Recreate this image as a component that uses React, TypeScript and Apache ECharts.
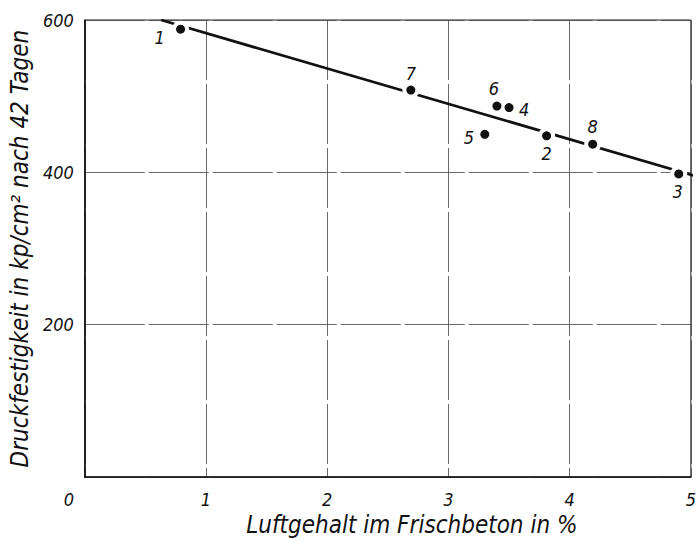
import React, { useEffect, useRef } from "react";
import * as echarts from "echarts";

const pointNames = ["1", "2", "3", "4", "5", "6", "7", "8"];
const airContent = [0.79, 3.81, 4.9, 3.5, 3.3, 3.4, 2.69, 4.19];
const strength = [588, 448, 398, 485, 450, 487, 508, 437];
const trendX = [0.63, 5.02];
const trendY = [600, 396];
const xTicks = [0, 1, 2, 3, 4, 5];
const yTicks = [0, 200, 400, 600];

// label placement (pixel offsets of each number relative to its dot)
const labelOffsets: Record<string, [number, number]> = {
  "1": [-21, 8],
  "2": [0, 18],
  "3": [-1, 18],
  "4": [15, 2],
  "5": [-16, 3],
  "6": [-3, -18],
  "7": [0, -17],
  "8": [0, -18],
};

const FONT = "'DejaVu Sans Condensed', 'DejaVu Sans', sans-serif";
const INK = "#111111";

export default function App() {
  const ref = useRef<HTMLDivElement>(null);
  useEffect(() => {
    document.body.style.margin = "0";
    if (!ref.current) return;
    const chart = echarts.init(ref.current, undefined, { renderer: "svg" });
    const pts = pointNames.map((n, i) => [airContent[i], strength[i], n]);
    const tickFont = { fontFamily: FONT, fontStyle: "italic", fontSize: 18, color: INK };
    chart.setOption({
      animation: false,
      backgroundColor: "#ffffff",
      grid: {
        left: 83,
        right: 4,
        top: 20,
        bottom: 62,
        show: true,
        borderColor: "#222",
        borderWidth: 1,
      },
      xAxis: {
        type: "value",
        min: xTicks[0],
        max: xTicks[xTicks.length - 1],
        interval: 1,
        name: "Luftgehalt im Frischbeton in %",
        nameLocation: "middle",
        nameGap: 33,
        nameTextStyle: {
          fontFamily: FONT,
          fontStyle: "italic",
          fontSize: 24,
          color: INK,
          padding: [0, 0, 0, 48],
        },
        axisLine: { show: true, lineStyle: { color: "#111", width: 1.6 } },
        axisTick: { show: false },
        axisLabel: {
          margin: 13,
          ...tickFont,
          formatter: (v: number) => (v === 0 ? "{z|0}" : String(v)),
          rich: {
            z: { ...tickFont, padding: [0, 32, 0, 0] },
          },
        },
        splitLine: { show: true, lineStyle: { color: "#444", width: 0.8, type: [60, 4] } },
      },
      yAxis: {
        type: "value",
        min: yTicks[0],
        max: yTicks[yTicks.length - 1],
        interval: 200,
        name: "Druckfestigkeit in kp/cm² nach 42 Tagen",
        nameLocation: "middle",
        nameGap: 49,
        nameTextStyle: { fontFamily: FONT, fontStyle: "italic", fontSize: 24, color: INK },
        axisLine: { show: true, lineStyle: { color: "#111", width: 1.6 } },
        axisTick: { show: false },
        axisLabel: {
          margin: 11,
          ...tickFont,
          formatter: (v: number) => (v === 0 ? "" : String(v)),
        },
        splitLine: { show: true, lineStyle: { color: "#444", width: 0.8, type: [60, 4] } },
      },
      series: [
        {
          type: "line",
          data: trendX.map((x, i) => [x, trendY[i]]),
          symbol: "none",
          lineStyle: { color: "#111", width: 2.8 },
          z: 2,
          clip: false,
        },
        {
          type: "scatter",
          data: pts,
          symbolSize: 17,
          itemStyle: { color: "#ffffff", opacity: 1 },
          z: 3,
          silent: true,
        },
        {
          type: "scatter",
          data: pts.map((p) => ({
            value: p,
            label: {
              show: true,
              position: "inside",
              offset: labelOffsets[p[2] as string],
              formatter: p[2] as string,
              ...tickFont,
            },
          })),
          symbolSize: 9,
          itemStyle: { color: "#111111", opacity: 1 },
          z: 4,
        },
      ],
    });
    return () => chart.dispose();
  }, []);
  return <div ref={ref} style={{ width: 699, height: 542 }} />;
}
